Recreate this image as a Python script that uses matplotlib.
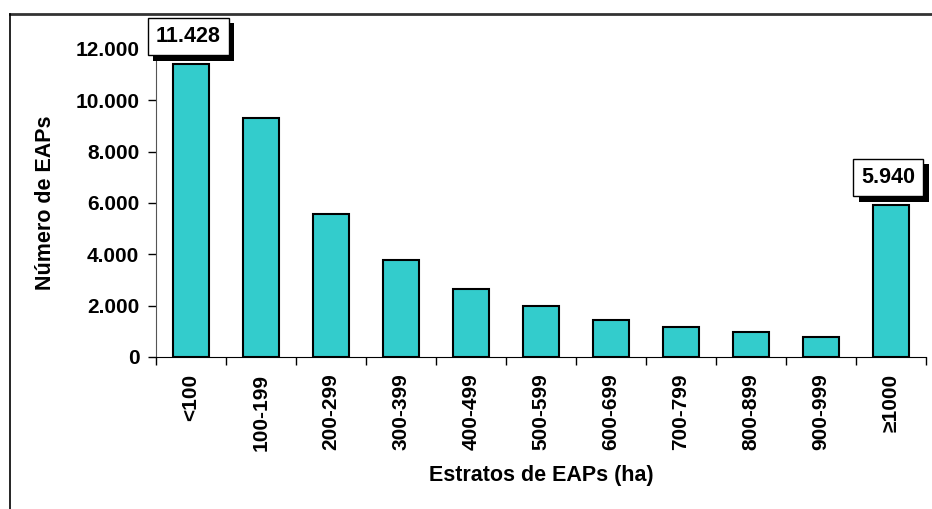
#bar chart: numero de EAPs por estrato
import matplotlib
matplotlib.use("Agg")
import matplotlib.pyplot as plt
import matplotlib.patheffects as pe
from matplotlib.lines import Line2D
from matplotlib.ticker import FuncFormatter, MultipleLocator

categorias = ["<100", "100-199", "200-299", "300-399", "400-499", "500-599",
              "600-699", "700-799", "800-899", "900-999", "≥1000"]
valores = [11428, 9310, 5580, 3780, 2650, 1990, 1440, 1180, 985, 790, 5940]
destacados = [0, 10]  # bars with a value box

plt.rcParams["font.family"] = ["Liberation Sans", "DejaVu Sans"]
plt.rcParams["font.weight"] = "bold"

fig = plt.figure(figsize=(9.32, 5.09), dpi=100)
ax = fig.add_axes([156/932, 1 - 357/509, 770/932, 308/509])

x = range(len(categorias))
ax.bar(x, valores, width=0.52, color="#33CCCC", edgecolor="black", linewidth=1.5)

ax.set_xlim(-0.5, len(categorias) - 0.5)
ax.set_ylim(0, 12000)

ax.yaxis.set_major_locator(MultipleLocator(2000))
ax.yaxis.set_major_formatter(FuncFormatter(lambda v, p: f"{int(v):,}".replace(",", ".")))
ax.tick_params(axis="y", labelsize=15, length=6, width=1, direction="out", pad=6)

ax.set_xticks(list(x))
ax.set_xticklabels(categorias, rotation=90, fontsize=15, fontweight="bold")
ax.tick_params(axis="x", which="major", length=0, pad=12)
ax.set_xticks([i - 0.5 for i in range(len(categorias) + 1)], minor=True)
ax.tick_params(axis="x", which="minor", length=6, width=1, direction="out")

for s in ["top", "right"]:
    ax.spines[s].set_visible(False)
ax.spines["left"].set_color("#555555")
ax.spines["bottom"].set_color("black")

for lab in ax.get_yticklabels():
    lab.set_fontweight("bold")

ax.set_ylabel("Número de EAPs", fontsize=15.5, fontweight="bold", labelpad=14)
ax.set_xlabel("Estratos de EAPs (ha)", fontsize=15.5, fontweight="bold", labelpad=10)

# value boxes with a shadow
for i in destacados:
    txt = f"{valores[i]:,}".replace(",", ".")
    t = ax.annotate(txt, xy=(i, valores[i]), xytext=(-2, 12), textcoords="offset points",
                    ha="center", va="bottom", fontsize=15.5, fontweight="bold", color="black",
                    bbox=dict(boxstyle="square,pad=0.38", fc="white", ec="black", lw=1),
                    annotation_clip=False, zorder=5)
    t.get_bbox_patch().set_path_effects([
        pe.SimplePatchShadow(offset=(4, -4), shadow_rgbFace="black", alpha=1.0),
        pe.Normal()])

# outer frame (top and left visible)
fig.add_artist(Line2D([10/932, 1.0], [1 - 14/509, 1 - 14/509], color="#333333", lw=2))
fig.add_artist(Line2D([10/932, 10/932], [0, 1 - 14/509], color="black", lw=1.2))

fig.savefig("out.png", dpi=100)
